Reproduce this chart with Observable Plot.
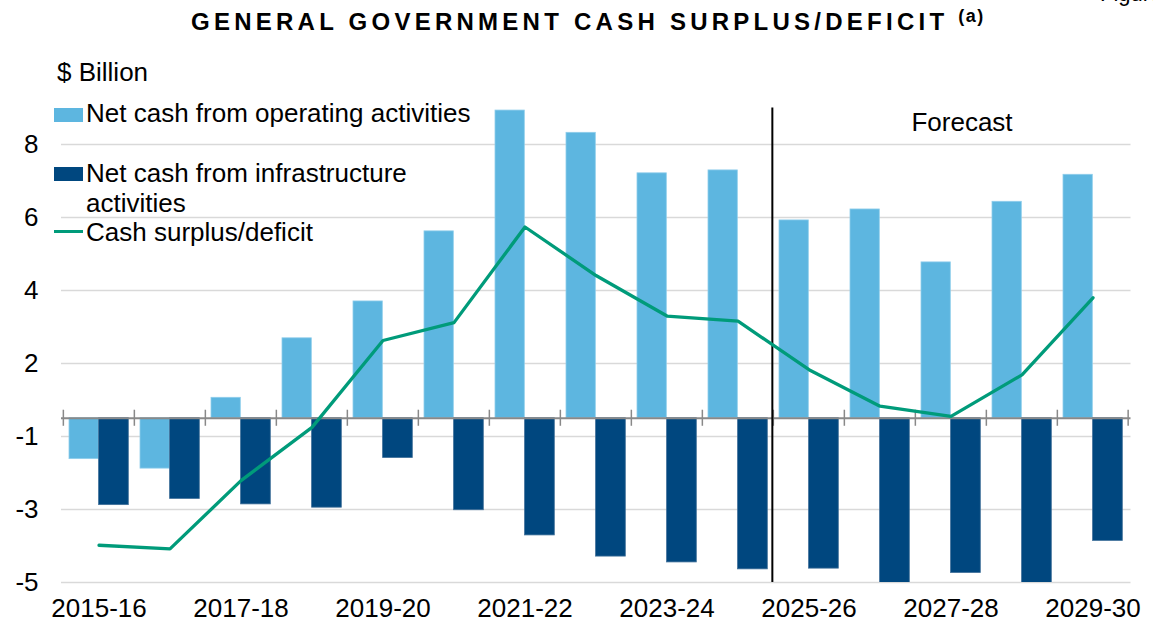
<!DOCTYPE html>
<html>
<head>
<meta charset="utf-8">
<script src="https://cdn.jsdelivr.net/npm/d3@7"></script>
<script src="https://cdn.jsdelivr.net/npm/@observablehq/plot@0.6"></script>
<style>
  body { margin: 0; background: #fff; font-family: "Liberation Sans", Arial, sans-serif; }
  #wrap { position: relative; width: 1153px; height: 630px; overflow: hidden; }
  #chart { position: absolute; left: 0; top: 0; }
  .abs { position: absolute; white-space: nowrap; color: #000; }
  .title { left: 191px; top: 8px; font-weight: bold; font-size: 24px; letter-spacing: 4.25px; }
  .title sup { font-size: 18px; letter-spacing: 1.5px; vertical-align: 0; position: relative; top: -8px; margin-left: 10px; }
  .leg { font-size: 26px; line-height: 30px; }
  .sw { position: absolute; width: 29px; height: 14px; }
</style>
</head>
<body>
<div id="wrap">
  <div id="chart"></div>
  <div class="abs title">GENERAL GOVERNMENT CASH SURPLUS/DEFICIT<sup>(a)</sup></div>
  <div class="abs" style="left:1100px; top:-19px; font-size:22px;">Figure</div>
  <div class="abs leg" style="left:57px; top:57px;">$ Billion</div>
  <div class="sw" style="left:54px; top:108px; background:#5DB6E0;"></div>
  <div class="abs leg" style="left:86px; top:98px;">Net cash from operating activities</div>
  <div class="sw" style="left:54px; top:167px; background:#00477F;"></div>
  <div class="abs leg" style="left:86px; top:158px;">Net cash from infrastructure<br>activities</div>
  <div class="sw" style="left:54px; top:230px; height:3px; background:#009B7A;"></div>
  <div class="abs leg" style="left:86px; top:217px;">Cash surplus/deficit</div>
</div>
<script>
const years = ["2015-16","2016-17","2017-18","2018-19","2019-20","2020-21","2021-22","2022-23","2023-24","2024-25","2025-26","2026-27","2027-28","2028-29","2029-30"];
const operating = [-1.12,-1.38,0.56,2.19,3.20,5.12,8.43,7.82,6.71,6.79,5.42,5.72,4.27,5.93,6.67];
const infrastructure = [-2.38,-2.21,-2.36,-2.45,-1.09,-2.52,-3.21,-3.79,-3.95,-4.14,-4.12,-4.6,-4.24,-4.6,-3.36];
const surplus = [-3.48,-3.58,-1.71,-0.25,2.13,2.62,5.24,3.91,2.80,2.66,1.33,0.33,0.05,1.19,3.30];
const yTickValues = [7.5,5.5,3.5,1.5,-0.5,-2.5,-4.5];
const yTickLabels = ["8","6","4","2","-1","-3","-5"];
const forecastStart = "2025-26";

const W = 1153, H = 630;
const mL = 61, mR = 22.5;
const bw = (W - mL - mR) / years.length;

const opData = years.map((y, i) => ({year: y, value: operating[i]}));
const infData = years.map((y, i) => ({year: y, value: infrastructure[i]}));
const lineData = years.map((y, i) => ({year: y, value: surplus[i]}));

const chart = Plot.plot({
  width: W, height: H,
  marginLeft: mL, marginRight: mR, marginTop: 71, marginBottom: 48,
  style: {fontFamily: '"Liberation Sans", Arial, sans-serif', fontSize: "26px", color: "#000", background: "transparent"},
  x: {type: "band", domain: years, padding: 0, label: null},
  y: {domain: [-4.5, 9.5], label: null},
  marks: [
    Plot.ruleY(yTickValues, {stroke: "#D9D9D9", strokeWidth: 1.5}),
    Plot.axisY({ticks: yTickValues, tickFormat: (d) => yTickLabels[yTickValues.indexOf(d)], tickSize: 0, tickPadding: 23, fontSize: 26, label: null}),
    Plot.axisX({tickFormat: (d) => (years.indexOf(d) % 2 === 0 ? d : ""), tickSize: 0, tickPadding: 16, fontSize: 26, label: null}),
    Plot.barY(opData, {x: "year", y: "value", fill: "#5DB6E0", stroke: "#8FCDEB", strokeWidth: 0.8, insetLeft: 6, insetRight: bw - 35.6, clip: true}),
    Plot.barY(infData, {x: "year", y: "value", fill: "#00477F", stroke: "#3F6F99", strokeWidth: 0.8, insetLeft: 35.6, insetRight: 5.7, clip: true}),
    Plot.ruleY([0], {stroke: "#898989", strokeWidth: 2}),
    Plot.ruleX(years, {x: (d) => d, y1: -0.22, y2: 0.22, dx: -bw / 2, stroke: "#898989", strokeWidth: 1.5}),
    Plot.ruleX([years[years.length - 1]], {x: (d) => d, y1: -0.22, y2: 0.22, dx: bw / 2 - 0.5, stroke: "#898989", strokeWidth: 1.5}),
    Plot.ruleX([forecastStart], {x: (d) => d, y1: -4.5, y2: 8.5, dx: -bw / 2 - 1, stroke: "#000", strokeWidth: 2}),
    Plot.text(["Forecast"], {x: () => "2027-28", y: () => 8.1, dx: 11, text: (d) => d, fontSize: 26, fill: "#000", textAnchor: "middle", lineAnchor: "middle"}),
    Plot.line(lineData, {x: "year", y: "value", stroke: "#009B7A", strokeWidth: 3.3, strokeLinejoin: "round"})
  ]
});
document.getElementById("chart").appendChild(chart);
</script>
</body>
</html>
